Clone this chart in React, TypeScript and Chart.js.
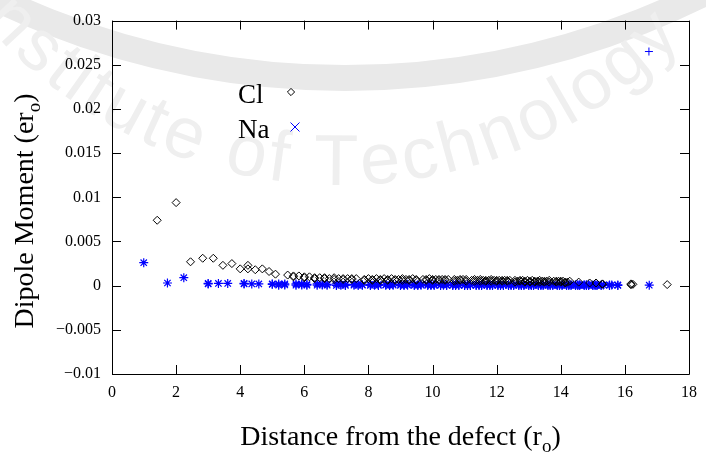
import React, { useEffect, useRef } from 'react';
import { Chart, registerables } from 'chart.js';

Chart.register(...registerables);

// ---- data ----
const clX = [
  1.41, 2.0, 2.45, 2.83, 3.16, 3.46, 3.74, 4.0, 4.24, 4.24, 4.47, 4.69, 4.9, 5.1,
  5.48, 5.66, 5.83, 6.0, 6.16, 6.32, 6.48, 6.63, 6.78, 6.93, 7.07, 7.21, 7.35, 7.48,
  7.62, 7.87, 8.0, 8.12, 8.25, 8.37, 8.49, 8.6, 8.72, 8.83, 8.94, 9.06, 9.17, 9.27,
  9.38, 9.49, 9.7, 9.8, 9.9, 10.0, 10.1, 10.2, 10.3, 10.39, 10.49, 10.68, 10.77, 10.86,
  10.95, 11.05, 11.22, 11.31, 11.4, 11.49, 11.58, 11.66, 11.75, 11.83, 11.92, 12.0,
  12.08, 12.17, 12.25, 12.33, 12.41, 12.57, 12.65, 12.73, 12.81, 12.88, 12.96, 13.04,
  13.11, 13.19, 13.27, 13.34, 13.42, 13.49, 13.56, 13.64, 13.78, 13.86, 13.93, 14.0,
  14.07, 14.14, 14.21, 14.28, 14.56, 14.9, 15.1, 15.3, 16.19, 16.25, 17.32,
  // second sites on the same shells
  5.66, 6.0, 6.32, 6.63, 6.93, 7.21, 7.48, 7.87, 8.12, 8.37, 8.6, 8.83, 9.06, 9.27,
  9.49, 9.8, 10.0, 10.2, 10.39, 10.68, 10.86, 11.05, 11.31, 11.49, 11.66, 11.83, 12.0,
  12.17, 12.33, 12.57, 12.73, 12.88, 13.04, 13.19, 13.34, 13.49, 13.64, 13.86, 14.0, 14.14, 15.3, 16.19,
];
const clY = [
  0.0074, 0.0094, 0.0027, 0.0031, 0.0031, 0.0023, 0.0025, 0.0019, 0.0023, 0.0019, 0.0018, 0.0019, 0.0016, 0.0013,
  0.0012, 0.0011, 0.0011, 0.001, 0.001, 0.0009, 0.0009, 0.0009, 0.0008, 0.0009, 0.0008, 0.0008, 0.0008, 0.0008,
  0.0008, 0.0007, 0.0008, 0.0007, 0.0008, 0.0007, 0.0008, 0.0007, 0.0008, 0.0007, 0.0007, 0.0008, 0.0007, 0.0007,
  0.0008, 0.0007, 0.0007, 0.0007, 0.0008, 0.0007, 0.0007, 0.0007, 0.0007, 0.0007, 0.0007, 0.0007, 0.0006, 0.0007,
  0.0007, 0.0007, 0.0006, 0.0007, 0.0006, 0.0007, 0.0006, 0.0006, 0.0006, 0.0007, 0.0006, 0.0006,
  0.0006, 0.0006, 0.0006, 0.0006, 0.0006, 0.0006, 0.0005, 0.0006, 0.0006, 0.0005, 0.0006, 0.0005,
  0.0006, 0.0005, 0.0005, 0.0006, 0.0005, 0.0005, 0.0005, 0.0006, 0.0005, 0.0005, 0.0005, 0.0005,
  0.0005, 0.0004, 0.0004, 0.0005, 0.0004, 0.0003, 0.0003, 0.0002, 0.0002, 0.00015, 0.00012,
  0.001, 0.0009, 0.0008, 0.0008, 0.0007, 0.0007, 0.0007, 0.0006, 0.0006, 0.0006, 0.0006, 0.0006, 0.0006, 0.0006,
  0.0006, 0.0006, 0.0006, 0.0006, 0.0006, 0.0005, 0.0006, 0.0005, 0.0005, 0.0005, 0.0005, 0.0005, 0.0005,
  0.0005, 0.0005, 0.0004, 0.0005, 0.0004, 0.0004, 0.0004, 0.0004, 0.0004, 0.0004, 0.0004, 0.0004, 0.0003, 0.00015, 0.0001,
];
const naX = [
  0.99, 1.73, 2.24, 3.0, 3.0, 3.32, 3.61, 4.12, 4.12, 4.36, 4.58, 5.0, 5.0, 5.2, 5.39,
  5.74, 5.92, 6.08, 6.4, 6.56, 6.71, 7.0, 7.14, 7.28, 7.55, 7.68, 7.81, 8.06, 8.19,
  8.31, 8.54, 8.66, 8.77, 9.0, 9.11, 9.22, 9.43, 9.54, 9.64, 9.85, 9.95, 10.05, 10.25,
  10.34, 10.44, 10.63, 10.72, 10.82, 11.0, 11.09, 11.18, 11.36, 11.45, 11.53, 11.7,
  11.79, 11.87, 12.04, 12.12, 12.21, 12.37, 12.45, 12.53, 12.69, 12.77, 12.85, 13.0,
  13.08, 13.15, 13.3, 13.38, 13.45, 13.6, 13.67, 13.75, 13.89, 13.96, 14.04, 14.18,
  14.25, 14.32, 14.46, 14.53, 14.59, 14.73, 14.8, 14.87, 15.0, 15.07, 15.13, 15.26,
  15.33, 15.52, 15.59, 15.78, 16.76,
  // second sites on the same shells
  5.2, 5.39, 5.74, 5.92, 6.08, 6.4, 6.56, 6.71, 7.0, 7.14, 7.28, 7.55, 7.68, 7.81,
  8.06, 8.19, 8.31, 8.54, 8.66, 8.77, 9.0, 9.11, 9.22, 9.43, 9.54, 9.64, 9.85, 9.95,
  10.05, 10.25, 10.34, 10.44, 10.63, 10.72, 10.82, 11.0, 11.09, 11.18, 11.36, 11.45,
  11.53, 11.7, 11.79, 11.87, 12.04, 12.12, 12.21, 12.37, 12.45, 12.53, 12.69, 12.77,
  12.85, 13.0, 13.08, 13.15, 13.3, 13.38, 13.45, 13.6, 13.67, 13.75, 13.89, 13.96,
  14.04, 14.18, 14.25, 14.32, 14.46, 14.53, 14.59, 14.73, 14.8, 14.87, 15.0, 15.07,
  15.13, 15.26, 15.52, 15.78,
];
const naY = [
  0.0026, 0.0003, 0.0009, 0.00025, 0.0002, 0.00025, 0.00025, 0.0002, 0.00025, 0.0002, 0.0002, 0.0002, 0.00015, 0.0002, 0.0002,
  0.0002, 0.0002, 0.00015, 0.0002, 0.00015, 0.00015, 0.0002, 0.00015, 0.00015, 0.00015, 0.00015, 0.0001, 0.00015, 0.00015,
  0.00015, 0.0001, 0.00015, 0.00015, 0.00015, 0.0001, 0.00015, 0.00015, 0.0001, 0.00015, 0.00015, 0.0001, 0.00015, 0.0001,
  0.00015, 0.0001, 0.0001, 0.00015, 0.0001, 0.0001, 0.00015, 0.0001, 0.0001, 0.0001, 0.00015, 0.0001,
  0.0001, 0.0001, 0.0001, 0.00015, 0.0001, 0.0001, 0.0001, 0.0001, 0.0001, 0.0001, 0.0001, 0.0001,
  0.0001, 0.0001, 0.0001, 0.0001, 0.0001, 0.0001, 0.0001, 0.0001, 0.0001, 0.0001, 0.0001, 0.0001,
  0.0001, 0.0001, 0.0001, 0.0001, 0.0001, 0.0001, 0.0001, 0.0001, 0.00008, 0.0001, 0.00008, 0.00008,
  0.00008, 0.00008, 0.00008, 0.00008, 0.00005,
  0.00005, 0.00008, 0.00005, 0.00008, 0.00005, 0.00005, 0.00008, 0.00005, 0.00003, 0.00005, 0.00003, 0.00005, 0.00003, 0.00005,
  0.00003, 0.00005, 0.00003, 0.00005, 0.00003, 0.00005, 0.00003, 0.00003, 0.00005, 0.00003, 0.00003, 0.00005, 0.00003, 0.00003,
  0.00003, 0.00003, 0.00005, 0.00003, 0.00003, 0.00003, 0.00003, 0.00003, 0.00003, 0.00003, 0.00003, 0.00003,
  0.00003, 0.00003, 0.00003, 0.00003, 0.00003, 0.00003, 0.00003, 0.00003, 0.00003, 0.00003, 0.00003, 0.00003,
  0.00003, 0.00003, 0.00003, 0.00003, 0.00003, 0.00003, 0.00003, 0.00003, 0.00003, 0.00003, 0.00003, 0.00003,
  0.00003, 0.00003, 0.00003, 0.00003, 0.00003, 0.00003, 0.00003, 0.00003, 0.00003, 0.00003, 0.00003, 0.00003,
  0.00003, 0.00003, 0.00003, 0.00003,
];
const naOutlierX = [16.75];
const naOutlierY = [0.0265];

const xTicks = [0, 2, 4, 6, 8, 10, 12, 14, 16, 18];
const xTickLabels = ['0', '2', '4', '6', '8', '10', '12', '14', '16', '18'];
const yTicks = [-0.01, -0.005, 0, 0.005, 0.01, 0.015, 0.02, 0.025, 0.03];
const yTickLabels = ['\u22120.01', '\u22120.005', '0', '0.005', '0.01', '0.015', '0.02', '0.025', '0.03'];
const legendLabels = ['Cl', 'Na'];
const xTitle = ['Distance from the defect (r', 'o', ')'];
const yTitle = ['Dipole Moment (er', 'o', ')'];
const watermarkText = 'Institute of Technology';

const SERIF = '"Liberation Serif", "Times New Roman", serif';

function drawSubTitle(ctx: CanvasRenderingContext2D, parts: string[], cx: number, baseline: number) {
  const mainFont = `28px ${SERIF}`;
  const subFont = `19px ${SERIF}`;
  ctx.font = mainFont;
  const w1 = ctx.measureText(parts[0]).width;
  const w3 = ctx.measureText(parts[2]).width;
  ctx.font = subFont;
  const w2 = ctx.measureText(parts[1]).width;
  const total = w1 + w2 + w3;
  let x = cx - total / 2;
  ctx.textAlign = 'left';
  ctx.textBaseline = 'alphabetic';
  ctx.fillStyle = '#000';
  ctx.font = mainFont;
  ctx.fillText(parts[0], x, baseline);
  x += w1;
  ctx.font = subFont;
  ctx.fillText(parts[1], x, baseline + 7);
  x += w2;
  ctx.font = mainFont;
  ctx.fillText(parts[2], x, baseline);
}

const watermarkPlugin = {
  id: 'watermark',
  beforeDraw(chart: any) {
    const ctx: CanvasRenderingContext2D = chart.ctx;
    ctx.save();
    ctx.strokeStyle = '#e9e9e9';
    ctx.lineWidth = 26;
    ctx.beginPath();
    ctx.arc(345, -727, 805, 0, Math.PI);
    ctx.stroke();

    ctx.font = '72px "Liberation Sans", Arial, sans-serif';
    ctx.fillStyle = '#efefef';
    ctx.textAlign = 'center';
    ctx.textBaseline = 'alphabetic';
    const cx = 340, cy = -285, R = 470;
    const prefix = 'Institute of ';
    const spacing = 4;
    let prefixW = 0;
    for (const ch of prefix) prefixW += ctx.measureText(ch).width + spacing;
    let phi = Math.asin((312 - cx) / R) - prefixW / R;
    for (const ch of watermarkText) {
      const w = ctx.measureText(ch).width + spacing;
      const mid = phi + w / 2 / R;
      ctx.save();
      ctx.translate(cx + R * Math.sin(mid), cy + R * Math.cos(mid));
      ctx.rotate(-mid);
      ctx.fillText(ch, 0, 0);
      ctx.restore();
      phi += w / R;
    }
    ctx.restore();
  },
};

const framePlugin = {
  id: 'frame',
  afterDraw(chart: any) {
    const ctx: CanvasRenderingContext2D = chart.ctx;
    const { left, right, top, bottom } = chart.chartArea;
    const xs = chart.scales.x;
    const ys = chart.scales.y;
    ctx.save();
    ctx.strokeStyle = '#000';
    ctx.lineWidth = 1;
    ctx.beginPath();
    ctx.rect(Math.round(left) + 0.5, Math.round(top) + 0.5, Math.round(right - left), Math.round(bottom - top));
    const tl = 9;
    xs.ticks.forEach((t: any) => {
      const px = Math.round(xs.getPixelForValue(t.value)) + 0.5;
      ctx.moveTo(px, bottom);
      ctx.lineTo(px, bottom - tl);
      ctx.moveTo(px, top);
      ctx.lineTo(px, top + tl);
    });
    ys.ticks.forEach((t: any) => {
      const py = Math.round(ys.getPixelForValue(t.value)) + 0.5;
      ctx.moveTo(left, py);
      ctx.lineTo(left + tl, py);
      ctx.moveTo(right, py);
      ctx.lineTo(right - tl, py);
    });
    ctx.stroke();

    // axis titles
    drawSubTitle(ctx, xTitle, (left + right) / 2, 445);
    ctx.save();
    ctx.translate(33, 211);
    ctx.rotate(-Math.PI / 2);
    drawSubTitle(ctx, yTitle, 0, 0);
    ctx.restore();

    // legend (gnuplot style: text then symbol)
    ctx.font = `27px ${SERIF}`;
    ctx.fillStyle = '#000';
    ctx.textAlign = 'left';
    ctx.textBaseline = 'alphabetic';
    ctx.fillText(legendLabels[0], 238, 103);
    ctx.fillText(legendLabels[1], 238, 138);
    ctx.strokeStyle = '#000';
    ctx.lineWidth = 1;
    ctx.beginPath();
    const dx = 291, dy = 92, r = 3.6;
    ctx.moveTo(dx, dy - r);
    ctx.lineTo(dx + r, dy);
    ctx.lineTo(dx, dy + r);
    ctx.lineTo(dx - r, dy);
    ctx.closePath();
    ctx.stroke();
    ctx.strokeStyle = '#0000ff';
    ctx.beginPath();
    const ex = 295, ey = 127, s = 4.5;
    ctx.moveTo(ex - s, ey - s);
    ctx.lineTo(ex + s, ey + s);
    ctx.moveTo(ex - s, ey + s);
    ctx.lineTo(ex + s, ey - s);
    ctx.stroke();
    ctx.restore();
  },
};

export default function App() {
  const canvasRef = useRef<HTMLCanvasElement | null>(null);

  useEffect(() => {
    if (!canvasRef.current) return;
    const chart = new Chart(canvasRef.current, {
      type: 'scatter',
      data: {
        datasets: [
          {
            label: legendLabels[0],
            data: clX.map((x, i) => ({ x, y: clY[i] })),
            pointStyle: 'rectRot',
            pointRadius: 4,
            borderColor: '#000000',
            backgroundColor: 'rgba(0,0,0,0)',
            borderWidth: 1,
          },
          {
            label: legendLabels[1],
            data: naX.map((x, i) => ({ x, y: naY[i] })),
            pointStyle: 'star',
            pointRadius: 4.5,
            borderColor: '#0000ff',
            backgroundColor: '#0000ff',
            borderWidth: 1.2,
          },
          {
            label: 'Na+',
            data: naOutlierX.map((x, i) => ({ x, y: naOutlierY[i] })),
            pointStyle: 'cross',
            pointRadius: 4,
            borderColor: '#0000ff',
            backgroundColor: '#0000ff',
            borderWidth: 1,
          },
        ],
      },
      options: {
        animation: false,
        responsive: false,
        maintainAspectRatio: false,
        layout: { padding: { top: 16, right: 13, left: 0, bottom: 0 } },
        plugins: { legend: { display: false }, tooltip: { enabled: false } },
        elements: { point: { hoverRadius: 4 } },
        scales: {
          x: {
            type: 'linear',
            min: 0,
            max: 18,
            afterBuildTicks: (scale: any) => {
              scale.ticks = xTicks.map((v) => ({ value: v }));
            },
            afterFit: (scale: any) => {
              scale.height = 81;
            },
            grid: { display: false, drawTicks: false },
            border: { display: false },
            ticks: {
              color: '#000',
              padding: 9,
              maxRotation: 0,
              autoSkip: false,
              font: { family: SERIF, size: 16 },
              callback: (v: any) => {
                const i = xTicks.findIndex((t) => Math.abs(t - v) < 1e-9);
                return i >= 0 ? xTickLabels[i] : '';
              },
            },
          },
          y: {
            type: 'linear',
            min: -0.01,
            max: 0.03,
            afterBuildTicks: (scale: any) => {
              scale.ticks = yTicks.map((v) => ({ value: v }));
            },
            afterFit: (scale: any) => {
              scale.width = 112;
            },
            grid: { display: false, drawTicks: false },
            border: { display: false },
            ticks: {
              color: '#000',
              padding: 11,
              autoSkip: false,
              font: { family: SERIF, size: 16 },
              callback: (v: any) => {
                const i = yTicks.findIndex((t) => Math.abs(t - v) < 1e-9);
                return i >= 0 ? yTickLabels[i] : '';
              },
            },
          },
        },
      },
      plugins: [watermarkPlugin, framePlugin],
    } as any);
    return () => chart.destroy();
  }, []);

  return (
    <div style={{ position: 'absolute', left: 0, top: 0, width: 706, height: 455, background: '#fff' }}>
      <canvas ref={canvasRef} width={706} height={455} style={{ display: 'block' }} />
    </div>
  );
}
